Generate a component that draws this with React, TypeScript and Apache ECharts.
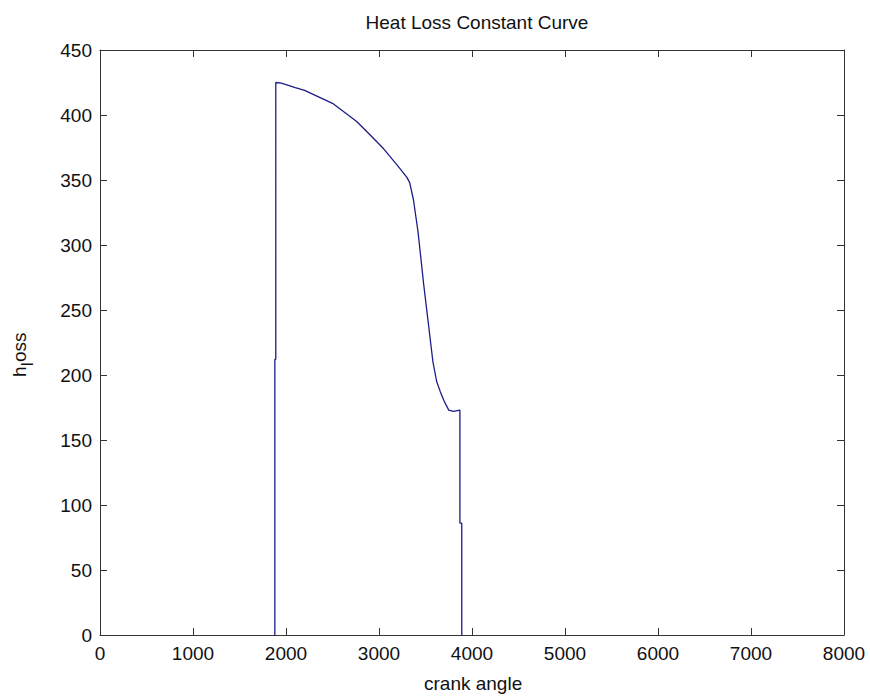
import React, { useEffect, useRef } from "react";
import * as echarts from "echarts";

const crankAngle = [1880, 1880, 1890, 1890, 1950, 2100, 2200, 2350, 2500, 2650, 2760, 2900, 3050, 3200, 3300, 3330, 3370, 3420, 3480, 3530, 3580, 3620, 3660, 3700, 3750, 3800, 3870, 3870, 3890, 3890];
const hLoss = [0, 212, 212, 425, 424.5, 421, 419, 414, 409, 401, 395, 385, 374, 361, 352, 348, 335, 310, 270, 240, 210, 195, 187, 180, 173, 172, 173, 86, 86, 0];
const xTicks = [0, 1000, 2000, 3000, 4000, 5000, 6000, 7000, 8000];
const yTicks = [0, 50, 100, 150, 200, 250, 300, 350, 400, 450];

const FONT = "'Liberation Sans', Arial, sans-serif";
const FS = 19;
const AXIS_COLOR = "#333";

export default function App() {
  const ref = useRef<HTMLDivElement>(null);
  useEffect(() => {
    if (!ref.current) return;
    const chart = echarts.init(ref.current, null, { renderer: "svg" });
    const data = crankAngle.map((x, i) => [x, hLoss[i]]);
    const axisCommon = {
      type: "value" as const,
      axisLine: { show: true, onZero: false, lineStyle: { color: AXIS_COLOR, width: 1 } },
      axisTick: { show: true, inside: true, length: 7, lineStyle: { color: AXIS_COLOR } },
      splitLine: { show: false },
    };
    const fmt = (v: number) => String(v);
    chart.setOption({
      animation: false,
      backgroundColor: "#ffffff",
      title: {
        text: "Heat Loss Constant Curve",
        left: 472,
        top: 8,
        textAlign: "center",
        textStyle: { fontFamily: FONT, fontSize: FS, fontWeight: "normal", color: "#111" },
      },
      grid: { left: 100, right: 26, top: 50, bottom: 63, containLabel: false },
      xAxis: [
        {
          ...axisCommon,
          position: "bottom",
          min: xTicks[0],
          max: xTicks[xTicks.length - 1],
          interval: 1000,
          axisLabel: { show: true, margin: 9, fontFamily: FONT, fontSize: FS, color: "#111", formatter: fmt },
        },
        {
          ...axisCommon,
          position: "top",
          min: xTicks[0],
          max: xTicks[xTicks.length - 1],
          interval: 1000,
          axisLabel: { show: false },
        },
      ],
      yAxis: [
        {
          ...axisCommon,
          position: "left",
          min: yTicks[0],
          max: yTicks[yTicks.length - 1],
          interval: 50,
          axisLabel: { show: true, margin: 8, fontFamily: FONT, fontSize: FS, color: "#111", formatter: fmt },
        },
        {
          ...axisCommon,
          position: "right",
          min: yTicks[0],
          max: yTicks[yTicks.length - 1],
          interval: 50,
          axisLabel: { show: false },
        },
      ],
      graphic: [
        {
          type: "text",
          left: 472 - 48,
          top: 674,
          style: { text: "crank angle", font: `${FS}px ${FONT}`, fill: "#111" },
        },
        {
          type: "group",
          x: 19,
          y: 377,
          rotation: Math.PI / 2,
          children: [
            { type: "text", x: 0, y: 0, style: { text: "h", font: `${FS}px ${FONT}`, fill: "#111", verticalAlign: "middle", align: "left" } },
            { type: "text", x: 11, y: 8, style: { text: "l", font: `${FS - 3}px ${FONT}`, fill: "#111", verticalAlign: "middle", align: "left" } },
            { type: "text", x: 15, y: 0, style: { text: "oss", font: `${FS}px ${FONT}`, fill: "#111", verticalAlign: "middle", align: "left" } },
          ],
        },
      ],
      series: [
        {
          type: "line",
          data,
          xAxisIndex: 0,
          yAxisIndex: 0,
          showSymbol: false,
          symbol: "none",
          lineStyle: { color: "#1c1c86", width: 1.3 },
        },
      ],
    });
    return () => chart.dispose();
  }, []);
  return <div ref={ref} style={{ width: 870, height: 698, position: "absolute", left: 0, top: 0 }} />;
}
